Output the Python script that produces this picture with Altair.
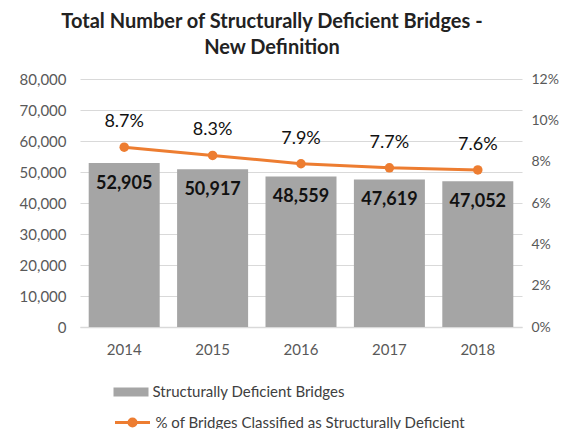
import altair as alt
import pandas as pd

years = ["2014", "2015", "2016", "2017", "2018"]
bridges = [52905, 50917, 48559, 47619, 47052]
pct = [0.087, 0.083, 0.079, 0.077, 0.076]
bar_series = "Structurally Deficient Bridges"
line_series = "% of Bridges Classified as Structurally Deficient"

df = pd.DataFrame({
    "year": years,
    "bridges": bridges,
    "pct": pct,
    "bar_series": [bar_series] * len(years),
    "line_series": [line_series] * len(years),
})

FONT = "Lato"
GRAY = "#A5A5A5"
ORANGE = "#ED7D31"
AXIS_COL = "#595959"

x = alt.X("year:N", title=None,
          scale=alt.Scale(paddingInner=0.2, paddingOuter=0.1),
          axis=alt.Axis(labelAngle=0, ticks=False, labelPadding=15, labelFontSize=15,
                        labelColor=AXIS_COL, labelFont=FONT, domainColor="#D9D9D9",
                        domainWidth=1.5))

y_left = alt.Y("bridges:Q", title=None,
               scale=alt.Scale(domain=[0, 80000]),
               axis=alt.Axis(values=list(range(0, 80001, 10000)), format=",d", ticks=False,
                             domain=False, labelPadding=14, labelFontSize=15,
                             labelColor=AXIS_COL, labelFont=FONT,
                             gridColor="#D9D9D9", gridWidth=1))

y_right = alt.Y("pct:Q", title=None,
                scale=alt.Scale(domain=[0, 0.12]),
                axis=alt.Axis(orient="right", values=[0, 0.02, 0.04, 0.06, 0.08, 0.10, 0.12],
                              format=".0%", ticks=False, domain=False, grid=False,
                              labelPadding=9, labelFontSize=14, labelColor=AXIS_COL,
                              labelFont=FONT))

bars = alt.Chart(df).mark_bar(size=71).encode(
    x=x,
    y=y_left,
    fill=alt.Fill("bar_series:N", scale=alt.Scale(range=[GRAY]),
                  legend=alt.Legend(title=None, orient="none", legendX=33.5, legendY=295.5,
                                    symbolType="M-1,-0.26H1V0.26H-1Z", symbolSize=1225,
                                    symbolStrokeWidth=0, labelFont=FONT, labelFontSize=15,
                                    labelColor="#404040", labelOffset=4, padding=0,
                                    labelLimit=450)),
)
bar_text = alt.Chart(df).mark_text(baseline="top", dy=12, fontSize=18, fontWeight="bold",
                                   font=FONT, color="#111111").encode(
    x=x, y=y_left, text=alt.Text("bridges:Q", format=",d"))

left = alt.layer(bars, bar_text)

line = alt.Chart(df).mark_line(strokeWidth=3).encode(
    x=x,
    y=y_right,
    stroke=alt.Stroke("line_series:N", scale=alt.Scale(range=[ORANGE]),
                      legend=alt.Legend(title=None, orient="none", legendX=33.5, legendY=324.5,
                                        symbolType="M-1,0H1M-0.2,0A0.2,0.2,0,1,1,0.2,0A0.2,0.2,0,1,1,-0.2,0",
                                        symbolSize=1225, symbolStrokeWidth=3,
                                        symbolFillColor=ORANGE, labelFont=FONT,
                                        labelFontSize=15, labelColor="#404040",
                                        labelOffset=4, padding=0, labelLimit=450)),
)
points = alt.Chart(df).mark_circle(size=90, opacity=1, color=ORANGE).encode(x=x, y=y_right)
pct_text = alt.Chart(df).mark_text(baseline="bottom", dy=-16, fontSize=18, font=FONT,
                                   color="#111111").encode(
    x=x, y=y_right, text=alt.Text("pct:Q", format=".1%"))

right = alt.layer(line, points, pct_text)

chart = alt.layer(left, right).resolve_scale(y="independent", fill="independent",
                                             stroke="independent").properties(
    width=442,
    height=248,
    padding={"left": 72, "top": 71, "right": 38, "bottom": 102},
    autosize=alt.AutoSizeParams(type="none"),
    title=alt.TitleParams(
        text=["Total Number of Structurally Deficient Bridges -", "New Definition"],
        font=FONT, fontSize=20, fontWeight="bold", color="#222222",
        anchor="middle", dx=-29, offset=14, lineHeight=26),
).configure_view(stroke=None)

chart.save("out.html", embed_options={"renderer": "svg", "actions": False})
